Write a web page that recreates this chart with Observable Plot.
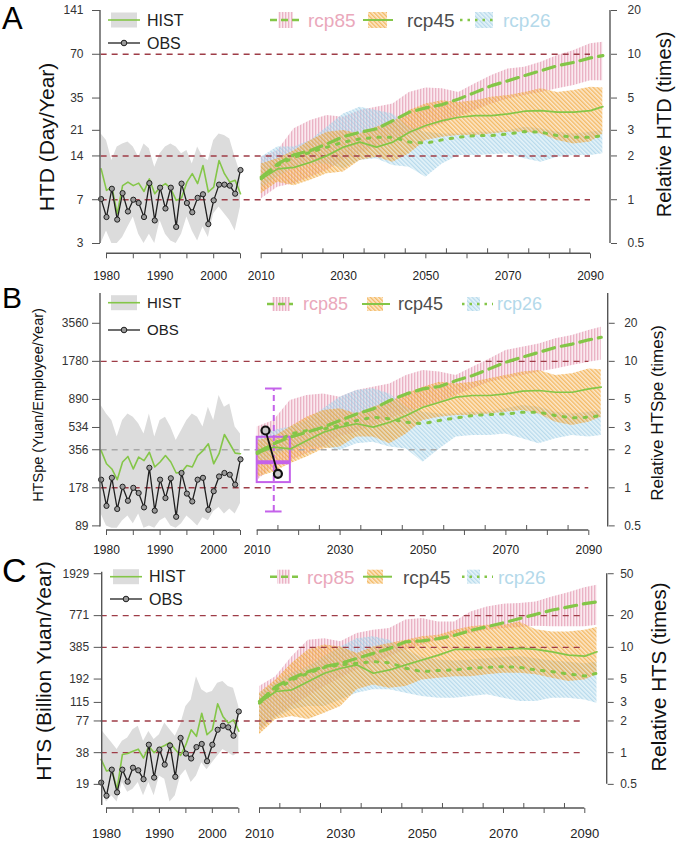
<!DOCTYPE html>
<html><head><meta charset="utf-8">
<script src="https://cdn.jsdelivr.net/npm/d3@7"></script>
<script src="https://cdn.jsdelivr.net/npm/@observablehq/plot@0.6"></script>
<style>
body{margin:0;background:#fff;}
#wrap{position:relative;width:677px;height:841px;overflow:hidden;background:#fff;}
.panel{position:absolute;left:0;width:677px;}
</style></head><body>
<svg width="0" height="0" style="position:absolute;left:0;top:0">
<defs>
<pattern id="h85" patternUnits="userSpaceOnUse" width="3" height="3">
  <rect width="3" height="3" fill="rgba(240,188,205,0.32)"/>
  <line x1="0.75" y1="0" x2="0.75" y2="3" stroke="rgba(224,142,170,0.8)" stroke-width="1"/>
</pattern>
<pattern id="h45" patternUnits="userSpaceOnUse" width="3" height="3" patternTransform="rotate(-45)">
  <rect width="3" height="3" fill="rgba(247,192,110,0.36)"/>
  <line x1="0.75" y1="0" x2="0.75" y2="3" stroke="rgba(238,158,40,0.8)" stroke-width="1.1"/>
</pattern>
<pattern id="h26" patternUnits="userSpaceOnUse" width="3" height="3" patternTransform="rotate(-45)">
  <rect width="3" height="3" fill="rgba(190,225,240,0.38)"/>
  <line x1="0.75" y1="0" x2="0.75" y2="3" stroke="rgba(148,198,226,0.75)" stroke-width="1"/>
</pattern>
</defs></svg>
<div id="wrap"></div>
<script>
// ---------------- data ----------------
const histYears = [1979,1980,1981,1982,1983,1984,1985,1986,1987,1988,1989,1990,1991,1992,1993,1994,1995,1996,1997,1998,1999,2000,2001,2002,2003,2004,2005];
const projYears = [2010,2014,2018,2022,2026,2030,2034,2038,2042,2046,2050,2054,2058,2062,2066,2070,2074,2078,2082,2086,2090,2093];

const xTicksDown = [1980,1985,1990,1995,2000,2005,2010,2020,2030,2040,2050,2060,2070,2080,2090];
const xTicksUp = [2015,2025,2035,2045,2055,2065,2075,2085];
const xTickLabels = [1980,1990,2000,2010,2030,2050,2070,2090];

const relTicksAB = [20,10,5,3,2,1,0.5];
const relTicksC = [50,20,10,5,3,2,1,0.5];
const A_leftLabels = ["141","70","35","21","14","7","3"];
const B_leftLabels = ["3560","1780","890","534","356","178","89"];
const C_leftLabels = ["1929","771","385","192","115","77","38","19"];

const panelLetters = ["A","B","C"];
const leftTitles = ["HTD (Day/Year)","HTSpe (Yuan/Employee/Year)","HTS (Billion Yuan/Year)"];
const rightTitles = ["Relative HTD (times)","Relative HTSpe (times)","Relative HTS (times)"];
const histLegend = ["HIST","OBS"];
const scenarioNames = ["rcp85","rcp45","rcp26"];

const A_refRed = [10,2,1];
const B_refRed = [10,1];
const B_refGray = [2];
const C_refRed = [20,10,2,1];

// Panel A (relative to baseline)
const A_obs    = [1.01,0.76,1.19,0.73,1.11,0.83,1.00,0.95,0.76,1.30,0.72,1.21,0.87,1.21,0.65,1.29,0.95,0.82,1.03,1.09,0.68,0.99,1.27,1.27,1.25,1.10,1.60];
const A_hist   = [1.63,1.16,1.22,0.80,1.25,1.32,1.25,1.30,1.14,1.39,1.10,1.22,1.29,1.19,0.99,1.03,1.32,1.51,1.29,1.72,1.13,1.22,1.86,1.51,1.32,1.36,1.10];
const A_histHi = [2.83,2.55,1.86,2.30,2.42,2.49,2.30,1.96,2.42,2.24,1.67,2.07,2.30,2.42,2.30,2.07,2.18,1.76,2.30,1.96,1.86,2.55,2.83,2.76,2.62,1.96,1.51];
const A_histLo = [0.50,0.61,0.50,0.50,0.55,0.65,0.76,0.58,0.50,0.58,0.50,0.72,0.58,0.52,0.50,0.58,0.76,0.61,0.52,0.65,0.55,0.80,0.89,0.80,0.72,0.61,0.89];
const A_r85   = [1.43,1.76,2.04,2.18,2.42,2.72,2.91,3.07,3.50,4.00,4.28,4.51,4.93,5.47,6.09,6.58,7.14,7.72,8.35,8.81,9.44,9.79];
const A_r85Hi = [1.96,2.17,3.07,3.50,3.79,3.69,4.10,4.32,4.55,5.47,5.86,5.79,5.47,6.26,7.14,7.93,8.14,8.81,9.79,10.6,11.8,12.1];
const A_r85Lo = [1.01,1.22,1.29,1.43,1.59,1.86,2.07,2.30,2.55,2.83,3.07,3.32,3.69,4.10,4.55,4.93,5.20,5.47,5.79,6.09,6.58,6.58];
const A_r45   = [1.39,1.63,1.67,1.81,2.01,2.30,2.49,2.30,2.49,2.91,3.24,3.50,3.69,3.79,3.79,3.89,4.06,4.10,4.00,4.00,4.10,4.37];
const A_r45Hi = [1.76,1.91,2.17,2.55,2.91,2.99,2.83,3.15,3.41,4.10,4.55,4.80,4.67,4.80,5.07,5.20,5.47,5.79,5.47,5.63,5.94,5.86];
const A_r45Lo = [1.10,1.32,1.25,1.36,1.51,1.55,1.86,1.96,1.81,2.07,2.55,2.69,2.76,2.76,2.83,2.91,2.91,2.83,2.55,2.42,2.49,2.83];
const A_r26   = [1.39,1.72,1.96,2.12,2.30,2.49,2.62,2.69,2.69,2.49,2.45,2.58,2.69,2.76,2.76,2.83,2.94,2.91,2.76,2.69,2.69,2.76];
const A_r26Hi = [1.96,2.30,2.30,2.55,3.15,3.89,4.32,4.10,3.89,3.15,2.91,2.83,2.83,2.91,2.91,2.99,3.15,3.07,2.91,2.83,2.91,2.99];
const A_r26Lo = [1.22,1.43,1.67,1.76,1.76,1.63,1.86,1.91,1.72,1.67,1.43,1.76,2.01,2.01,2.04,2.07,1.91,1.81,1.96,2.01,2.01,2.07];

// Panel B
const B_obs    = [1.16,0.72,1.20,0.68,1.02,0.79,1.00,0.91,0.70,1.44,0.66,1.16,0.83,1.19,0.59,1.31,0.90,0.78,1.16,1.20,0.67,0.94,1.23,1.31,1.27,1.06,1.68];
const B_hist   = [1.97,1.55,1.41,1.16,1.60,1.77,1.41,1.75,1.64,1.91,1.46,1.60,1.80,1.60,1.31,1.33,1.50,1.46,1.80,1.97,2.23,1.55,1.86,2.64,2.23,1.88,1.86];
const B_histHi = [4.48,3.84,3.41,2.52,3.41,3.84,3.62,3.21,2.67,3.84,2.52,3.41,3.62,3.02,2.37,2.84,3.41,3.84,3.62,3.02,4.34,3.41,5.37,4.34,4.61,3.02,2.67];
const B_histLo = [0.62,0.50,0.48,0.48,0.55,0.60,0.52,0.62,0.48,0.50,0.48,0.55,0.58,0.50,0.48,0.52,0.60,0.55,0.50,0.58,0.55,0.65,0.70,0.62,0.68,0.62,0.75];
const B_r85   = [1.91,2.23,2.52,2.75,3.02,3.41,3.84,4.21,4.90,5.53,6.06,6.33,7.05,7.73,8.72,9.86,10.8,11.8,12.9,13.7,14.8,15.5];
const B_r85Hi = [3.02,3.41,4.90,5.37,5.53,5.21,5.88,6.25,6.63,7.73,8.45,8.22,7.73,8.99,10.4,12.2,12.9,13.7,15.1,16.0,17.5,18.6];
const B_r85Lo = [1.14,1.46,1.64,1.86,2.10,2.52,2.75,3.11,3.51,3.96,4.34,4.75,5.37,6.06,6.84,7.27,7.73,8.22,8.72,9.28,9.86,10.2];
const B_r45   = [1.86,2.10,2.03,2.37,2.75,3.02,3.21,3.02,3.30,3.73,4.34,4.75,5.21,5.37,5.37,5.53,5.81,5.88,5.70,5.70,6.06,6.25];
const B_r45Hi = [2.37,2.52,3.02,3.62,4.09,4.21,3.84,4.34,4.75,5.53,6.25,6.84,6.63,6.84,7.27,7.73,8.22,8.45,7.73,7.97,8.72,8.59];
const B_r45Lo = [1.21,1.33,1.55,1.75,2.03,2.10,2.52,2.52,2.23,2.67,3.41,3.62,3.73,3.73,3.84,3.96,4.09,3.84,3.30,3.11,3.30,3.62];
const B_r26   = [1.86,2.23,2.67,2.84,2.92,3.11,3.41,3.62,3.51,3.30,3.21,3.41,3.57,3.73,3.80,3.84,3.96,3.96,3.73,3.57,3.62,3.73];
const B_r26Hi = [2.52,2.84,3.02,3.41,4.21,5.21,5.88,6.06,5.53,4.34,3.96,3.84,3.84,3.96,3.96,4.21,4.48,4.34,3.96,3.84,3.96,4.09];
const B_r26Lo = [1.46,1.75,2.03,2.10,2.10,1.97,2.23,2.29,2.10,2.03,1.59,2.03,2.52,2.59,2.59,2.67,2.44,2.23,2.44,2.59,2.52,2.59];
// Panel B: recent-period box plot and observations
const boxYears = [2010,2018];
const boxMidYear = [2014];
const boxCapYears = [2012,2016];
const boxStats = [0.65,1.10,1.59,2.51,6.1]; // min, q1, median, q3, max
const B_recentYears = [2012,2015];
const B_recent = [2.84,1.29];

// Panel C
const C_obs    = [0.52,0.39,0.69,0.42,0.69,0.53,0.72,0.68,0.56,1.19,0.58,1.07,0.77,1.17,0.59,1.38,0.98,0.88,1.13,1.21,0.83,1.19,1.65,1.80,1.74,1.45,2.46];
const C_hist   = [0.86,0.67,0.69,0.45,0.96,0.98,1.03,1.08,0.89,1.15,1.00,1.11,1.17,1.25,1.07,0.94,1.19,1.65,1.43,2.37,1.48,1.65,2.91,2.21,1.91,2.05,1.60];
const C_histHi = [1.65,1.43,1.24,1.07,1.28,1.38,1.65,1.78,1.28,1.59,1.33,1.48,1.91,1.65,1.43,1.84,2.75,3.17,5.27,3.95,3.67,3.81,4.56,4.73,4.24,4.09,2.75];
const C_histLo = [0.45,0.34,0.39,0.34,0.52,0.42,0.45,0.52,0.39,0.52,0.39,0.60,0.56,0.34,0.39,0.60,0.69,0.52,0.60,0.80,0.69,0.80,0.93,1.07,1.00,0.93,1.00];
const C_r85   = [3.06,4.24,5.09,5.88,6.56,7.06,7.86,8.76,9.76,11.3,11.5,12.1,13.0,14.5,15.7,17.1,18.8,20.6,22.6,24.2,26.0,27.0];
const C_r85Hi = [4.24,5.27,8.14,11.7,12.1,11.3,13.5,14.5,15.1,18.2,18.8,17.4,17.4,21.7,24.2,25.7,26.1,27.0,30.1,33.0,36.8,38.9];
const C_r85Lo = [1.59,2.21,2.75,3.42,4.24,5.09,6.10,7.06,8.14,9.43,10.5,11.7,12.6,13.5,14.5,15.1,15.4,15.9,15.7,15.7,15.7,16.2];
const C_r45   = [2.95,3.81,3.95,4.73,5.68,6.33,6.81,5.68,6.10,6.81,7.58,8.44,9.55,9.55,9.55,9.55,9.76,9.55,9.07,8.44,8.26,9.07];
const C_r45Hi = [3.67,4.90,7.06,9.43,10.5,10.1,8.76,10.1,10.9,11.7,12.6,13.0,14.5,15.7,16.2,16.2,17.4,14.7,14.0,14.0,14.5,15.4];
const C_r45Lo = [1.48,2.06,2.21,2.06,2.37,2.75,3.95,4.40,4.09,4.24,4.90,5.09,5.27,5.27,5.48,5.68,5.68,5.48,5.09,4.73,4.90,5.48];
const C_r26   = [2.95,3.95,4.90,5.68,6.46,6.81,7.06,7.33,7.14,6.33,5.88,6.03,6.10,6.33,6.46,6.56,6.46,6.10,5.88,5.58,5.34,5.68];
const C_r26Hi = [3.67,4.56,5.68,6.56,8.14,10.1,12.1,12.6,11.7,9.43,8.00,7.60,7.40,7.60,7.80,8.00,8.20,7.80,7.40,7.20,7.00,7.20];
const C_r26Lo = [1.65,2.13,2.55,2.75,2.75,3.17,3.67,3.95,3.95,3.67,3.42,3.29,3.29,3.42,3.54,3.29,3.06,3.06,3.29,3.29,3.17,2.95];

// ---------------- styling ----------------
const FONT = "'Liberation Sans', Arial, Helvetica, sans-serif";
const GREEN = "#84c648";
const RED = "#9e3c47";
const AXIS = "#555";
const BOXC = "#c462ea";
const scenarioFill = ["url(#h85)","url(#h45)","url(#h26)"];
const scenarioText = ["#eaa8bb","#4d4d4d","#b4d9ea"];
const scenarioDash = ["7,4",null,"2.5,5"];

const panels = [
  {idx:0, top:0, height:280, ml:100, mr:67, yDomain:[0.5,20], yRange:[243,10], mt:10, mb:26.7,
   xRange:[106,240,260.7,590], rightSpan:[20,0.5], relTicks:relTicksAB, leftLabels:A_leftLabels,
   obs:A_obs, hist:A_hist, histHi:A_histHi, histLo:A_histLo,
   r85:A_r85, r85Hi:A_r85Hi, r85Lo:A_r85Lo, r45:A_r45, r45Hi:A_r45Hi, r45Lo:A_r45Lo, r26:A_r26, r26Hi:A_r26Hi, r26Lo:A_r26Lo,
   refRed:A_refRed, refGray:null, ytick:12, lpad:9, rpad:11, xpad:13, xfont:12, stretch:1,
   letter:{x:2,y:28.5,size:31}, lt:{x:46,y:137,size:21}, rt:{x:664,y:124.5,size:20},
   leg:{lx:108, histY:20, obsY:43, font:16, ty:20, tfont:19, boxH:16,
        items:[{l:[270,303],b:[278,293],t:308},{l:[363,393],b:[368,387],t:407},{l:[460,497],b:[475,493],t:503}]}},
  {idx:1, top:280, height:270, ml:100, mr:69.3, yDomain:[0.49,34.4], yRange:[246.5,13], mt:13, mb:20,
   xRange:[106,240,256.7,588.3], rightSpan:[34.4,0.49], relTicks:relTicksAB, leftLabels:B_leftLabels,
   obs:B_obs, hist:B_hist, histHi:B_histHi, histLo:B_histLo,
   r85:B_r85, r85Hi:B_r85Hi, r85Lo:B_r85Lo, r45:B_r45, r45Hi:B_r45Hi, r45Lo:B_r45Lo, r26:B_r26, r26Hi:B_r26Hi, r26Lo:B_r26Lo,
   refRed:B_refRed, refGray:B_refGray, ytick:12, lpad:4, rpad:10, xpad:10, xfont:12, stretch:1.4, box:true,
   letter:{x:2,y:28,size:30}, lt:{x:38,y:125,size:14.5}, rt:{x:657,y:133,size:17},
   leg:{lx:108, histY:22.7, obsY:50, font:15, ty:24, tfont:18, boxH:14,
        items:[{l:[267,293],b:[272,290],t:303},{l:[362,390],b:[367,383],t:398},{l:[462,493],b:[467,480],t:497}]}},
  {idx:2, top:550, height:291, ml:101.7, mr:70.3, yDomain:[0.315,51.7], yRange:[255,21.7], mt:21.7, mb:33,
   xRange:[106,238.3,259,584.3], rightSpan:[50,0.5], relTicks:relTicksC, leftLabels:C_leftLabels,
   obs:C_obs, hist:C_hist, histHi:C_histHi, histLo:C_histLo,
   r85:C_r85, r85Hi:C_r85Hi, r85Lo:C_r85Lo, r45:C_r45, r45Hi:C_r45Hi, r45Lo:C_r45Lo, r26:C_r26, r26Hi:C_r26Hi, r26Lo:C_r26Lo,
   refRed:C_refRed, refGray:null, ytick:12, lpad:5, rpad:7, xpad:15, xfont:13, stretch:1,
   letter:{x:2,y:32,size:34}, lt:{x:43,y:121,size:21}, rt:{x:658,y:127,size:20.5},
   leg:{lx:110, histY:26.7, obsY:49, font:16, ty:26.7, tfont:19, boxH:14,
        items:[{l:[270,298],b:[277,290],t:307},{l:[363,392],b:[367,383],t:403},{l:[462,493],b:[467,480],t:498}]}}
];

function stretchText(sel, s) {
  sel.each(function(){
    const t = this.getAttribute("transform") || "";
    const x = +(this.getAttribute("x") || 0);
    this.setAttribute("transform", `${t} translate(${x},0) scale(${s},1) translate(${-x},0)`);
  });
}

function makePanel(c) {
  const hist = histYears.map((year,i)=>({year, lo:c.histLo[i], hi:c.histHi[i], hist:c.hist[i], obs:c.obs[i]}));
  const proj = projYears.map((year,i)=>({year,
    lo85:c.r85Lo[i], hi85:c.r85Hi[i], m85:c.r85[i],
    lo45:c.r45Lo[i], hi45:c.r45Hi[i], m45:c.r45[i],
    lo26:c.r26Lo[i], hi26:c.r26Hi[i], m26:c.r26[i]}));
  const leftMap = new Map(c.relTicks.map((t,i)=>[t, c.leftLabels[i]]));
  const labelSet = new Set(xTickLabels);
  const xEnd = xTickLabels[xTickLabels.length-1];

  const marks = [
    Plot.areaY(hist, {x:"year", y1:"lo", y2:"hi", fill:"#dcdcdc", clip:true}),
    Plot.areaY(proj, {x:"year", y1:"lo85", y2:"hi85", fill:"url(#h85)", clip:true}),
    Plot.areaY(proj, {x:"year", y1:"lo26", y2:"hi26", fill:"url(#h26)", clip:true}),
    Plot.areaY(proj, {x:"year", y1:"lo45", y2:"hi45", fill:"url(#h45)", clip:true}),
    Plot.ruleY(c.refRed, {x1:histYears[0], x2:xEnd, stroke:RED, strokeWidth:1.4, strokeDasharray:"6,5"})
  ];
  if (c.refGray) marks.push(Plot.ruleY(c.refGray, {x1:histYears[0], x2:xEnd, stroke:"#a8a8a8", strokeWidth:1.4, strokeDasharray:"6,5"}));
  if (c.box) {
    const bx = [{x1:boxYears[0], x2:boxYears[1], xm:boxMidYear[0], c1:boxCapYears[0], c2:boxCapYears[1],
                 lo:boxStats[0], q1:boxStats[1], med:boxStats[2], q3:boxStats[3], hi:boxStats[4]}];
    marks.push(
      Plot.ruleX(bx, {x:"xm", y1:"lo", y2:"hi", stroke:BOXC, strokeWidth:2, strokeDasharray:"6,4"}),
      Plot.ruleY(bx, {y:"hi", x1:"c1", x2:"c2", stroke:BOXC, strokeWidth:2}),
      Plot.ruleY(bx, {y:"lo", x1:"c1", x2:"c2", stroke:BOXC, strokeWidth:2}),
      Plot.rect(bx, {x1:"x1", x2:"x2", y1:"q1", y2:"q3", fill:"none", stroke:BOXC, strokeWidth:2}),
      Plot.ruleY(bx, {y:"med", x1:"x1", x2:"x2", stroke:BOXC, strokeWidth:4})
    );
  }
  marks.push(
    Plot.line(hist, {x:"year", y:"hist", stroke:GREEN, strokeWidth:1.6}),
    Plot.line(hist, {x:"year", y:"obs", stroke:"#1f1f1f", strokeWidth:1.3}),
    Plot.dot(hist, {x:"year", y:"obs", r:2.6, fill:"#9a9a9a", stroke:"#1f1f1f", strokeWidth:1}),
    Plot.line(proj, {x:"year", y:"m26", stroke:GREEN, strokeWidth:3, strokeDasharray:"2.5,8"}),
    Plot.line(proj, {x:"year", y:"m45", stroke:GREEN, strokeWidth:1.7}),
    Plot.line(proj, {x:"year", y:"m85", stroke:GREEN, strokeWidth:3.2, strokeDasharray:"12,7"})
  );
  if (c.box) {
    const rec = B_recentYears.map((year,i)=>({year, v:B_recent[i]}));
    marks.push(
      Plot.line(rec, {x:"year", y:"v", stroke:"#111", strokeWidth:1.8}),
      Plot.dot(rec, {x:"year", y:"v", r:4, fill:"#c8c8c8", stroke:"#111", strokeWidth:2.2})
    );
  }
  marks.push(
    // y tick marks (labels drawn separately)
    Plot.axisY(c.relTicks, {anchor:"left", tickSize:8, tickFormat:()=>"", stroke:AXIS, label:null}),
    Plot.axisY(c.relTicks, {anchor:"right", tickSize:6, tickFormat:()=>"", stroke:AXIS, label:null}),
    Plot.text(c.relTicks, {y:d=>d, text:d=>leftMap.get(d), frameAnchor:"left", textAnchor:"end", dx:-(8+c.lpad),
      fontSize:c.ytick, fill:"#333", ariaLabel:"ytl"}),
    Plot.text(c.relTicks, {y:d=>d, text:d=>String(d), frameAnchor:"right", textAnchor:"start", dx:6+c.rpad,
      fontSize:c.ytick, fill:"#333", ariaLabel:"ytl"}),
    Plot.axisX(xTicksDown, {anchor:"bottom", tickSize:5, tickPadding:c.xpad, tickFormat:d=>labelSet.has(d)?String(d):"", fontSize:c.xfont, color:"#222", stroke:AXIS, label:null}),
    Plot.axisX(xTicksUp, {anchor:"bottom", tickSize:5, dy:-5, tickFormat:()=>"", stroke:AXIS, label:null})
  );

  const svg = Plot.plot({
    width:677, height:c.height,
    marginTop:c.mt, marginBottom:c.mb, marginLeft:c.ml, marginRight:c.mr,
    x:{type:"linear", domain:[1980,2005,2010,2090], range:c.xRange, label:null, axis:null},
    y:{type:"log", domain:c.yDomain, range:c.yRange, label:null, axis:null},
    style:{fontFamily:FONT, background:"transparent", overflow:"visible"},
    marks
  });

  const X = svg.scale("x"), Y = svg.scale("y");
  const sel = d3.select(svg);
  if (c.stretch !== 1) stretchText(sel.selectAll('g[aria-label="ytl"] text'), c.stretch);

  // axis lines
  const ga = sel.append("g").attr("stroke", AXIS).attr("stroke-width", 1.4).attr("fill","none");
  const fb = c.height - c.mb;
  const rx = 677 - c.mr;
  ga.append("line").attr("x1",c.ml).attr("x2",c.ml).attr("y1",Y.apply(c.yDomain[1])).attr("y2",Y.apply(c.yDomain[0]));
  ga.append("line").attr("x1",rx).attr("x2",rx).attr("y1",Y.apply(c.rightSpan[0])).attr("y2",Y.apply(c.rightSpan[1]));
  const leftT = xTicksDown.filter(d=>d<=2005), rightT = xTicksDown.filter(d=>d>=2010);
  ga.append("line").attr("x1",X.apply(d3.min(leftT))).attr("x2",X.apply(d3.max(leftT))).attr("y1",fb).attr("y2",fb);
  ga.append("line").attr("x1",X.apply(d3.min(rightT))).attr("x2",X.apply(d3.max(rightT))).attr("y1",fb).attr("y2",fb);

  // texts
  const gt = sel.append("g").attr("font-family", FONT).attr("text-anchor","start");
  gt.append("text").attr("x",c.letter.x).attr("y",c.letter.y).attr("font-size",c.letter.size).attr("fill","#000").text(panelLetters[c.idx]);
  gt.append("text").attr("transform",`translate(${c.lt.x},${c.lt.y}) rotate(-90)`).attr("text-anchor","middle")
    .attr("dominant-baseline","central").attr("font-size",c.lt.size).attr("fill","#111").text(leftTitles[c.idx]);
  gt.append("text").attr("transform",`translate(${c.rt.x},${c.rt.y}) rotate(-90)`).attr("text-anchor","middle")
    .attr("dominant-baseline","central").attr("font-size",c.rt.size).attr("fill","#111").text(rightTitles[c.idx]);

  // legends
  const L = c.leg;
  const gl = sel.append("g").attr("font-family", FONT).attr("text-anchor","start");
  gl.append("rect").attr("x",L.lx+3).attr("y",L.histY-7.5).attr("width",26).attr("height",15).attr("fill","#dcdcdc");
  gl.append("line").attr("x1",L.lx).attr("x2",L.lx+32).attr("y1",L.histY).attr("y2",L.histY).attr("stroke",GREEN).attr("stroke-width",1.6);
  gl.append("text").attr("x",L.lx+39).attr("y",L.histY).attr("dy","0.36em").attr("font-size",L.font).attr("fill","#222").text(histLegend[0]);
  gl.append("line").attr("x1",L.lx).attr("x2",L.lx+32).attr("y1",L.obsY).attr("y2",L.obsY).attr("stroke","#1f1f1f").attr("stroke-width",1.3);
  gl.append("circle").attr("cx",L.lx+16).attr("cy",L.obsY).attr("r",2.8).attr("fill","#9a9a9a").attr("stroke","#1f1f1f");
  gl.append("text").attr("x",L.lx+39).attr("y",L.obsY).attr("dy","0.36em").attr("font-size",L.font).attr("fill","#222").text(histLegend[1]);
  L.items.forEach((it,i)=>{
    gl.append("rect").attr("x",it.b[0]).attr("y",L.ty-L.boxH/2).attr("width",it.b[1]-it.b[0]).attr("height",L.boxH).attr("fill",scenarioFill[i]);
    const ln = gl.append("line").attr("x1",it.l[0]).attr("x2",it.l[1]).attr("y1",L.ty).attr("y2",L.ty)
      .attr("stroke",GREEN).attr("stroke-width", i===1?2:2.6);
    if (scenarioDash[i]) ln.attr("stroke-dasharray",scenarioDash[i]);
    gl.append("text").attr("x",it.t).attr("y",L.ty).attr("dy","0.36em").attr("font-size",L.tfont).attr("fill",scenarioText[i]).text(scenarioNames[i]);
  });
  return svg;
}

const wrap = document.getElementById("wrap");
panels.forEach(c=>{
  const div = document.createElement("div");
  div.className = "panel";
  div.style.top = c.top + "px";
  div.style.height = c.height + "px";
  div.appendChild(makePanel(c));
  wrap.appendChild(div);
});
</script>
</body></html>
